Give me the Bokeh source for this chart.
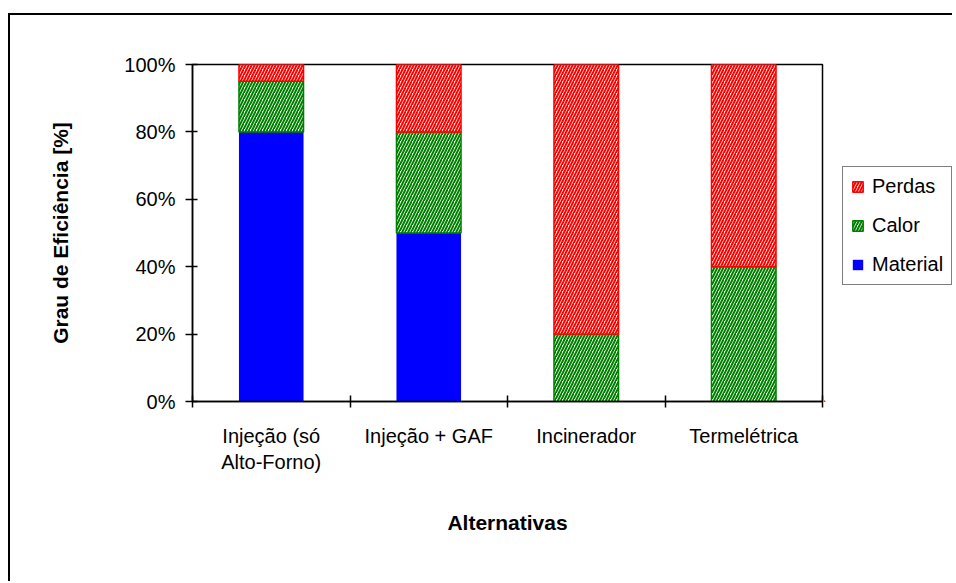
import numpy as np
from bokeh.plotting import figure
from bokeh.layouts import row
from bokeh.models import (ColumnDataSource, Range1d, FixedTicker, Legend, LegendItem)
from bokeh.embed import file_html
from bokeh.resources import INLINE

# ---- data ----
categories = ["Injeção (só\nAlto-Forno)", "Injeção + GAF", "Incinerador", "Termelétrica"]
material = [80, 50, 0, 0]
calor = [15, 30, 20, 40]
perdas = [5, 20, 80, 60]
y_ticks = [0, 20, 40, 60, 80, 100]
y_tick_labels = ["0%", "20%", "40%", "60%", "80%", "100%"]
series_names = ["Material", "Calor", "Perdas"]

FONT = "Liberation Sans"

x = np.arange(len(categories)) + 0.5
m = np.array(material, dtype=float)
c = np.array(calor, dtype=float)
pe = np.array(perdas, dtype=float)

src = ColumnDataSource(dict(
    x=x,
    m_bot=np.zeros_like(m), m_top=m,
    c_bot=m, c_top=m + c,
    p_bot=m + c, p_top=m + c + pe,
))

H = 566
LEFT, TOP, BOTTOM, RIGHT = 182, 49, 180, 2
FRAME_W = 630
W1 = LEFT + FRAME_W + RIGHT
W2 = 128

p = figure(width=W1, height=H, output_backend="svg", toolbar_location=None,
           x_range=Range1d(0, len(categories)), y_range=Range1d(0, 100),
           min_border_left=LEFT, min_border_top=TOP, min_border_bottom=BOTTOM,
           min_border_right=RIGHT)

p.grid.visible = False
p.outline_line_color = "black"
p.outline_line_width = 1.5
p.background_fill_color = "white"
p.border_fill_color = "white"

bw = 0.41
m_style = dict(fill_color="#0000FF", line_color=None)
c_style = dict(fill_color="white", line_color="#008000", line_width=1.5,
               hatch_pattern="/", hatch_color="#008000", hatch_scale=6, hatch_weight=2)
p_style = dict(fill_color="white", line_color="#FF0000", line_width=1.5,
               hatch_pattern="/", hatch_color="#FF0000", hatch_scale=6, hatch_weight=2)

p.vbar(x="x", bottom="m_bot", top="m_top", width=bw, source=src, **m_style)
p.vbar(x="x", bottom="c_bot", top="c_top", width=bw, source=src, **c_style)
p.vbar(x="x", bottom="p_bot", top="p_top", width=bw, source=src, **p_style)

# y axis
ya = p.yaxis[0]
ya.ticker = FixedTicker(ticks=y_ticks, minor_ticks=[])
ya.major_label_overrides = {t: l for t, l in zip(y_ticks, y_tick_labels)}
ya.axis_label = "Grau de Eficiência [%]"
ya.axis_label_text_font = FONT
ya.axis_label_text_font_style = "bold"
ya.axis_label_text_font_size = "21px"
ya.axis_label_text_color = "black"
ya.axis_label_standoff = 49
ya.major_label_text_font = FONT
ya.major_label_text_font_size = "20px"
ya.major_label_text_color = "black"
ya.major_label_standoff = 10
ya.major_tick_out = 7
ya.major_tick_in = 5
ya.axis_line_width = 1.5
ya.major_tick_line_width = 1.5

# x axis
xa = p.xaxis[0]
xa.ticker = FixedTicker(ticks=list(x), minor_ticks=list(range(len(categories) + 1)))
xa.major_label_overrides = {float(xi): lab for xi, lab in zip(x, categories)}
xa.major_tick_out = 0
xa.major_tick_in = 0
xa.minor_tick_out = 6
xa.minor_tick_in = 6
xa.minor_tick_line_width = 1.5
xa.minor_tick_line_color = "black"
xa.axis_line_width = 1.5
xa.major_label_text_font = FONT
xa.major_label_text_font_size = "20px"
xa.major_label_text_color = "black"
xa.major_label_standoff = 17
xa.axis_label = "Alternativas"
xa.axis_label_text_font = FONT
xa.axis_label_text_font_style = "bold"
xa.axis_label_text_font_size = "21px"
xa.axis_label_text_color = "black"
xa.axis_label_standoff = 35

# legend panel (separate canvas to the right of the plot area);
# its renderers share the data but its ranges keep them out of view
pl = figure(width=W2, height=H, output_backend="svg", toolbar_location=None,
            x_axis_location=None, y_axis_location=None,
            x_range=Range1d(100, 101), y_range=Range1d(1000, 1001),
            min_border_left=0, min_border_right=0, min_border_top=0, min_border_bottom=0)
pl.grid.visible = False
pl.outline_line_color = None
pl.background_fill_color = "white"
pl.border_fill_color = "white"
lr_m = pl.vbar(x="x", bottom="m_bot", top="m_top", width=bw, source=src, **m_style)
lr_c = pl.vbar(x="x", bottom="c_bot", top="c_top", width=bw, source=src, **c_style)
lr_p = pl.vbar(x="x", bottom="p_bot", top="p_top", width=bw, source=src, **p_style)

legend = Legend(items=[
    LegendItem(label=series_names[2], renderers=[lr_p]),
    LegendItem(label=series_names[1], renderers=[lr_c]),
    LegendItem(label=series_names[0], renderers=[lr_m]),
], location=(18, 116))
legend.label_text_font = FONT
legend.label_text_font_size = "20px"
legend.label_text_color = "black"
legend.border_line_color = "black"
legend.border_line_width = 1.5
legend.glyph_width = 13
legend.glyph_height = 13
legend.label_height = 22
legend.spacing = 16
legend.padding = 8
legend.margin = 0
legend.label_standoff = 8
legend.background_fill_alpha = 1.0
pl.add_layout(legend, "center")

layout = row(p, pl)
layout.margin = (13, 0, 0, 8)
layout.styles = {"border-top": "2px solid black", "border-left": "2px solid black"}

open("out.html", "w").write(file_html(layout, INLINE))
